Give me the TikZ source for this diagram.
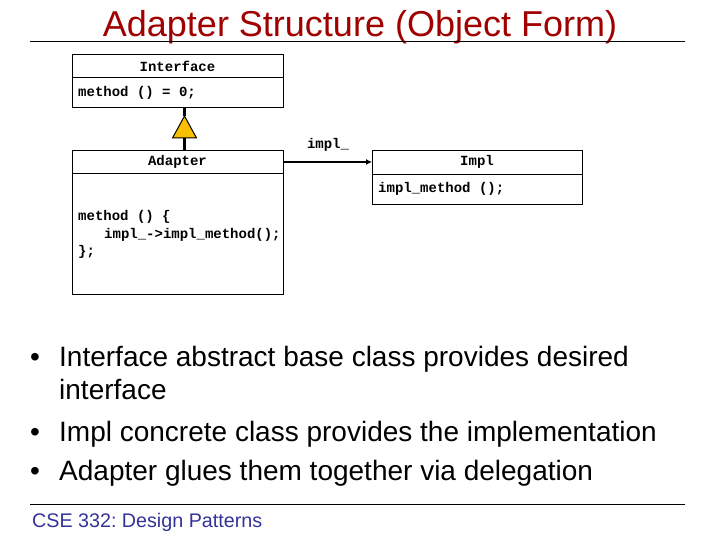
\documentclass[tikz,border=0pt]{standalone}
\usepackage{fontspec}
\setmainfont{Liberation Sans}
\newfontfamily\codefont{Liberation Mono}
\usetikzlibrary{arrows.meta}
\frenchspacing
\definecolor{titlered}{HTML}{A00000}
\definecolor{footblue}{HTML}{333399}
\definecolor{inhyellow}{HTML}{F8C000}
\tikzset{
  box/.style={draw, line width=1pt},
  code/.style={font=\codefont\bfseries\fontsize{14}{17}\selectfont, inner sep=0pt},
  bullettext/.style={font=\fontsize{28}{32}\selectfont, inner sep=0pt, anchor=base west},
}
\begin{document}
\begin{tikzpicture}[x=1pt,y=-1pt]
\useasboundingbox (0,0) rectangle (720,540);
% title
\node[text=titlered, font=\fontsize{36}{40}\selectfont, inner sep=0pt, anchor=base] (title) at (360,37) {Adapter Structure (Object Form)};
\draw[line width=1pt] (30,42) -- (685,42);
% Interface
\node[box, minimum width=211pt, minimum height=53pt, anchor=north west, inner sep=0pt] (iface) at (72,54) {};
\draw[line width=1pt] (72,78) -- (283,78);
\node[code, anchor=center] (ifname) at (177.5,66) {Interface};
\node[code, anchor=west] (ifm) at (78,93) {method () = 0;};
% Adapter
\node[box, minimum width=211pt, minimum height=144pt, anchor=north west, inner sep=0pt] (adapter) at (72,150) {};
\draw[line width=1pt] (72,174) -- (283,174);
\node[code, anchor=center] (adname) at (177.5,162) {Adapter};
\node[code, anchor=base west] (ad1) at (78,221) {method () \{};
\node[code, anchor=base west] (ad2) at (104,238) {impl\_->impl\_method();};
\node[code, anchor=base west] (ad3) at (78,255) {\};};
% Impl
\node[box, minimum width=210pt, minimum height=54pt, anchor=north west, inner sep=0pt] (impl) at (372,150) {};
\draw[line width=1pt] (372,175) -- (582,175);
\node[code, anchor=center] (implname) at (477,162) {Impl};
\node[code, anchor=west] (implm) at (378,189) {impl\_method ();};
% inheritance
\coordinate (apex) at (184.5,116);
\coordinate (baseC) at (184.5,138);
\draw[line width=2.5pt] (iface.south -| apex) -- (apex);
\draw[line width=2.5pt] (baseC) -- (adapter.north -| baseC);
\draw[line width=1pt, fill=inhyellow] (apex) -- (172.5,138) -- (196.5,138) -- cycle;
% association
\draw[line width=2.5pt, -{Latex[length=6pt,width=6pt]}] (adapter.east |- adname) -- (impl.west |- implname) node[pos=0.5, above=9pt, code] (lbl) {impl\_};
% bullets
\node[bullettext] (b1) at (30,366) {•};
\node[bullettext] (t1) at (59,366) {Interface abstract base class provides desired};
\node[bullettext] (t1b) at (59,399) {interface};
\node[bullettext] (b2) at (30,441) {•};
\node[bullettext] (t2) at (59,441) {Impl concrete class provides the implementation};
\node[bullettext] (b3) at (30,480) {•};
\node[bullettext] (t3) at (59,480) {Adapter glues them together via delegation};
% footer
\draw[line width=1pt] (30,504) -- (685,504);
\node[text=footblue, font=\fontsize{19.7}{22}\selectfont, inner sep=0pt, anchor=base west] (foot) at (32,527) {CSE 332: Design Patterns};
\end{tikzpicture}
\end{document}
